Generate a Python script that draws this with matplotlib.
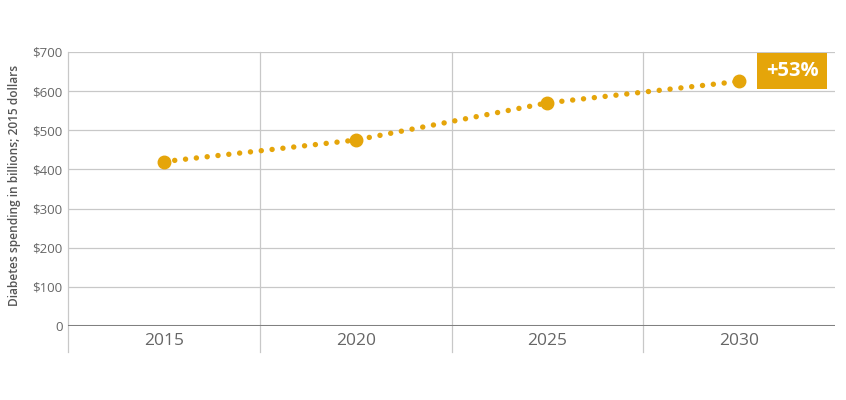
import matplotlib
matplotlib.use("Agg")
import matplotlib.pyplot as plt

years = ["2015", "2020", "2025", "2030"]
spending = [420, 475, 570, 625]
yticks = [0, 100, 200, 300, 400, 500, 600, 700]
ytick_labels = ["0", "$100", "$200", "$300", "$400", "$500", "$600", "$700"]
change_label = "+53%"

gold = "#E5A50A"
grid = "#c8c8c8"
plt.rcParams['font.family'] = ['Open Sans', 'DejaVu Sans']

fig = plt.figure(figsize=(8.46, 4.0), dpi=100)
ax = fig.add_axes([68/846, 74/400, (835-68)/846, (326-52)/400])

x = list(range(len(years)))
ax.set_xlim(-0.5, 3.5)
ax.set_ylim(0, 700)

# horizontal grid
for v in yticks[1:]:
    ax.axhline(v, color=grid, lw=0.9, zorder=1)
# vertical band separators, running below the baseline
for b in [-0.5, 0.5, 1.5, 2.5]:
    ax.plot([b, b], [-66, 700], color=grid, lw=0.9, clip_on=False, zorder=1)
ax.axhline(0, color="#808080", lw=2.2, zorder=2)

ax.plot(x, spending, color=gold, lw=3.9, linestyle=(0, (0.01, 2.0)),
        dash_capstyle="round", zorder=3)
ax.plot(x, spending, "o", color=gold, ms=9, zorder=4)

for s in ax.spines.values():
    s.set_visible(False)
ax.set_yticks(yticks)
ax.set_yticklabels(ytick_labels, fontsize=9.5, color="#666666")
ax.set_xticks(x)
ax.set_xticklabels(years, fontsize=12.5, color="#666666")
ax.tick_params(length=0)
ax.tick_params(axis="y", pad=4)
ax.tick_params(axis="x", pad=5)

fig.text(15/846, 1 - 185/400, "Diabetes spending in billions; 2015 dollars",
         rotation=90, ha="center", va="center", fontsize=8.6,
         color="#555555", fontweight="semibold")

fig.text(792/846, 1 - 71/400, change_label, ha="center", va="center",
         fontsize=14.5, fontweight="bold", color="white",
         bbox=dict(boxstyle="square,pad=0.42", fc=gold, ec="none"))

fig.savefig("out.png", dpi=100, facecolor="white")
